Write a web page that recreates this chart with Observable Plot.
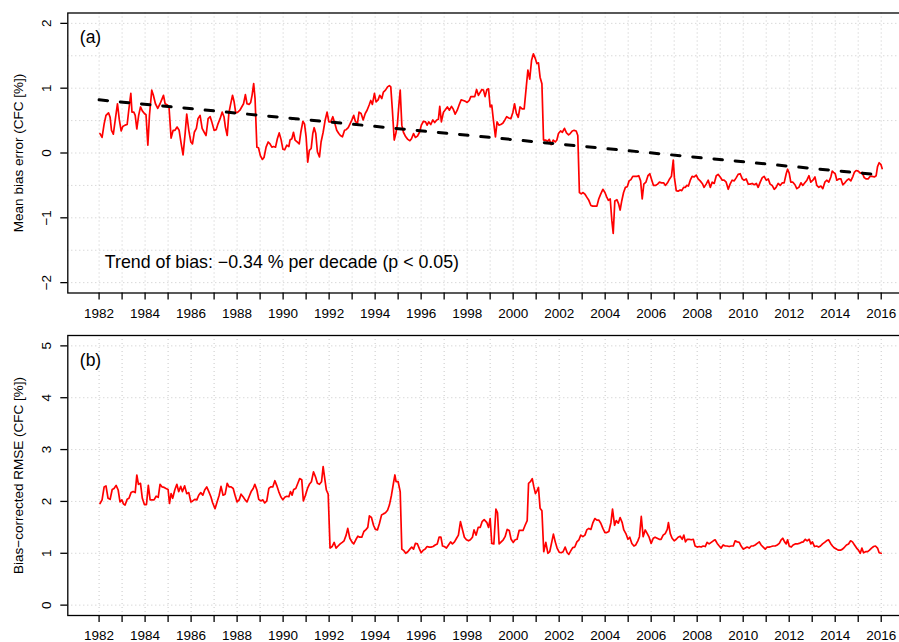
<!DOCTYPE html>
<html>
<head>
<meta charset="utf-8">
<script src="https://cdn.jsdelivr.net/npm/d3@7"></script>
<script src="https://cdn.jsdelivr.net/npm/@observablehq/plot@0.6"></script>
<style>
  html, body { margin: 0; padding: 0; background: white; overflow: hidden; }
  #chart svg { display: block; }
</style>
</head>
<body>
<div id="chart"></div>
<script>
// ---------- data ----------
const yearTicks = d3.range(1982, 2017);
const biasTicks = [-2, -1, 0, 1, 2];
const biasGrid = [-2, -1.5, -1, -0.5, 0, 0.5, 1, 1.5, 2];
const rmseTicks = [0, 1, 2, 3, 4, 5];
const rmseGrid = [0, 1, 2, 3, 4, 5];

const panelALabel = "(a)";
const panelBLabel = "(b)";
const biasTitle = "Mean bias error (CFC [%])";
const rmseTitle = "Bias\u2212corrected RMSE (CFC [%])";
const trendLabel = "Trend of bias: \u22120.34 % per decade (p < 0.05)";

const trendYears = [1982, 2016];
const trendValues = [0.82, -0.34];

const biasYears = [
1982.04,1982.13,1982.22,1982.30,1982.41,1982.48,1982.54,1982.62,1982.71,1982.80,1982.88,1982.96,
1983.03,1983.13,1983.22,1983.29,1983.38,1983.43,1983.51,1983.57,1983.64,1983.72,1983.80,1983.88,1983.97,
1984.04,1984.12,1984.19,1984.29,1984.36,1984.45,1984.55,1984.65,1984.72,1984.80,1984.87,1984.97,
1985.04,1985.13,1985.22,1985.30,1985.39,1985.48,1985.57,1985.65,1985.74,1985.81,1985.90,1985.99,
1986.06,1986.14,1986.23,1986.30,1986.39,1986.48,1986.57,1986.65,1986.74,1986.83,1986.90,
1987.00,1987.09,1987.17,1987.26,1987.35,1987.43,1987.49,1987.57,1987.64,1987.71,1987.80,1987.87,1987.94,
1988.03,1988.12,1988.20,1988.28,1988.36,1988.43,1988.52,1988.59,1988.65,1988.72,1988.78,1988.86,1988.93,
1989.01,1989.10,1989.17,1989.26,1989.35,1989.43,1989.51,1989.58,1989.67,1989.75,1989.83,1989.91,1989.99,
1990.07,1990.16,1990.25,1990.30,1990.38,1990.45,1990.52,1990.61,1990.70,1990.77,1990.86,1990.93,
1991.00,1991.07,1991.14,1991.22,1991.29,1991.35,1991.42,1991.49,1991.58,1991.65,1991.74,1991.83,1991.91,1991.99,
1992.07,1992.16,1992.23,1992.33,1992.42,1992.49,1992.58,1992.67,1992.74,1992.83,1992.91,1992.99,
1993.07,1993.14,1993.23,1993.30,1993.39,1993.48,1993.57,1993.65,1993.74,1993.81,1993.88,1993.97,
1994.04,1994.13,1994.20,1994.29,1994.36,1994.45,1994.54,1994.62,1994.68,1994.75,1994.83,1994.90,1994.97,
1995.03,1995.09,1995.16,1995.23,1995.33,1995.42,1995.51,1995.58,1995.67,1995.75,1995.84,1995.93,
1996.01,1996.10,1996.19,1996.26,1996.33,1996.42,1996.51,1996.59,1996.68,1996.75,1996.81,1996.88,1996.97,
1997.06,1997.14,1997.23,1997.32,1997.39,1997.48,1997.57,1997.65,1997.74,1997.83,1997.91,
1998.00,1998.09,1998.16,1998.25,1998.33,1998.41,1998.49,1998.64,1998.71,1998.78,1998.86,1998.93,
1999.00,1999.07,1999.14,1999.23,1999.30,1999.38,1999.46,1999.55,1999.64,1999.72,1999.81,1999.90,1999.99,
2000.06,2000.14,2000.22,2000.30,2000.39,2000.48,2000.57,2000.64,2000.72,2000.80,2000.88,2000.96,
2001.03,2001.10,2001.17,2001.25,2001.32,2001.41,2001.49,2001.57,2001.65,2001.74,2001.83,2001.90,2001.97,
2002.06,2002.14,2002.23,2002.32,2002.41,2002.48,2002.57,2002.65,2002.74,2002.81,2002.88,2002.96,
2003.04,2003.13,2003.20,2003.29,2003.38,2003.46,2003.55,2003.64,2003.72,2003.81,2003.90,2003.99,
2004.07,2004.14,2004.22,2004.29,2004.35,2004.42,2004.51,2004.58,2004.65,2004.72,2004.80,2004.88,2004.96,
2005.04,2005.12,2005.20,2005.29,2005.38,2005.46,2005.54,2005.61,2005.68,2005.77,2005.86,2005.94,
2006.01,2006.10,2006.19,2006.28,2006.36,2006.45,2006.54,2006.62,2006.71,2006.80,2006.88,2006.96,
2007.01,2007.09,2007.17,2007.26,2007.33,2007.41,2007.48,2007.55,2007.62,2007.70,2007.78,2007.87,2007.96,
2008.04,2008.13,2008.22,2008.30,2008.39,2008.48,2008.57,2008.65,2008.74,2008.83,2008.91,
2009.00,2009.09,2009.17,2009.26,2009.35,2009.43,2009.52,2009.61,2009.70,2009.78,2009.87,2009.96,
2010.04,2010.13,2010.22,2010.30,2010.39,2010.48,2010.57,2010.65,2010.74,2010.83,2010.91,
2011.00,2011.09,2011.17,2011.26,2011.35,2011.43,2011.52,2011.61,2011.70,2011.78,2011.87,2011.93,
2012.00,2012.07,2012.16,2012.25,2012.33,2012.42,2012.51,2012.59,2012.68,2012.77,2012.86,2012.94,
2013.03,2013.12,2013.20,2013.29,2013.38,2013.46,2013.55,2013.64,2013.72,2013.81,2013.87,2013.93,
2014.00,2014.07,2014.16,2014.25,2014.33,2014.42,2014.51,2014.59,2014.68,2014.77,2014.83,2014.91,
2015.00,2015.09,2015.17,2015.26,2015.35,2015.43,2015.52,2015.61,2015.70,2015.78,2015.84,2015.91,2015.99,2016.04
];
const biasValues = [
0.30,0.24,0.45,0.58,0.62,0.55,0.35,0.29,0.53,0.76,0.51,0.34,
0.41,0.43,0.44,0.66,0.92,0.63,0.63,0.58,0.37,0.58,0.71,0.65,0.61,
0.59,0.12,0.58,0.97,0.89,0.76,0.69,0.76,0.82,0.89,0.76,0.74,
0.71,0.23,0.35,0.35,0.40,0.35,0.14,-0.03,0.30,0.60,0.35,0.17,
0.14,0.32,0.38,0.53,0.58,0.38,0.32,0.27,0.53,0.56,0.48,
0.35,0.36,0.45,0.53,0.63,0.56,0.40,0.27,0.61,0.74,0.89,0.79,0.62,
0.63,0.66,0.71,0.76,0.90,0.76,0.75,0.78,0.89,1.07,0.84,0.09,0.08,
-0.04,-0.10,-0.07,0.09,0.17,0.14,0.09,0.10,0.09,0.22,0.31,0.21,0.06,
0.05,0.12,0.10,0.20,0.22,0.32,0.20,0.17,0.14,0.32,0.49,0.45,
0.25,-0.14,0.04,0.07,0.30,0.39,0.30,0.02,-0.06,0.17,0.32,0.51,0.63,0.48,
0.48,0.56,0.48,0.35,0.30,0.27,0.25,0.35,0.36,0.39,0.45,0.51,
0.58,0.49,0.45,0.63,0.61,0.51,0.61,0.66,0.74,0.81,0.75,0.92,
0.79,0.82,0.89,0.84,0.94,0.97,1.02,1.04,1.02,0.66,0.20,0.30,0.45,
0.73,0.97,0.43,0.32,0.25,0.21,0.19,0.22,0.30,0.24,0.26,0.32,
0.43,0.49,0.48,0.43,0.48,0.44,0.51,0.47,0.51,0.52,0.72,0.48,0.63,
0.67,0.71,0.66,0.72,0.68,0.60,0.66,0.74,0.82,0.81,0.80,
0.78,0.81,0.87,0.87,0.87,0.98,0.89,0.98,0.97,0.87,0.98,0.99,
0.71,0.74,0.51,0.25,0.48,0.43,0.44,0.46,0.51,0.56,0.54,0.53,0.63,
0.76,0.61,0.55,0.71,0.68,0.68,1.02,1.28,1.14,1.43,1.53,1.46,
1.38,1.39,1.17,1.07,0.20,0.20,0.18,0.21,0.13,0.20,0.17,0.20,0.30,
0.34,0.32,0.38,0.31,0.28,0.30,0.34,0.35,0.34,0.27,-0.61,-0.63,
-0.61,-0.64,-0.68,-0.73,-0.81,-0.82,-0.82,-0.82,-0.71,-0.63,-0.56,-0.61,
-0.68,-0.73,-0.71,-1.04,-1.24,-0.74,-0.72,-0.78,-0.88,-0.74,-0.61,-0.53,-0.52,
-0.43,-0.41,-0.36,-0.36,-0.36,-0.35,-0.43,-0.71,-0.48,-0.45,-0.35,-0.32,
-0.40,-0.50,-0.50,-0.48,-0.45,-0.46,-0.46,-0.50,-0.46,-0.40,-0.36,-0.11,
-0.38,-0.58,-0.59,-0.57,-0.58,-0.53,-0.53,-0.50,-0.51,-0.42,-0.36,-0.37,-0.34,
-0.40,-0.43,-0.47,-0.53,-0.48,-0.42,-0.53,-0.45,-0.47,-0.35,-0.33,
-0.37,-0.42,-0.42,-0.45,-0.56,-0.48,-0.42,-0.43,-0.38,-0.33,-0.32,-0.40,
-0.42,-0.40,-0.48,-0.48,-0.47,-0.49,-0.47,-0.53,-0.45,-0.38,-0.36,
-0.42,-0.40,-0.48,-0.50,-0.56,-0.53,-0.47,-0.50,-0.46,-0.46,-0.32,-0.25,
-0.31,-0.45,-0.45,-0.49,-0.55,-0.53,-0.46,-0.50,-0.46,-0.42,-0.35,-0.45,
-0.42,-0.37,-0.50,-0.53,-0.51,-0.55,-0.45,-0.42,-0.45,-0.37,-0.28,-0.30,
-0.32,-0.42,-0.40,-0.40,-0.49,-0.46,-0.42,-0.40,-0.43,-0.36,-0.30,-0.27,
-0.28,-0.31,-0.30,-0.38,-0.40,-0.40,-0.36,-0.36,-0.37,-0.35,-0.21,-0.15,-0.18,-0.24
];

const rmseYears = [
1982.04,1982.13,1982.22,1982.30,1982.39,1982.48,1982.57,1982.65,1982.74,1982.83,1982.91,1982.99,
1983.06,1983.13,1983.22,1983.30,1983.39,1983.48,1983.57,1983.64,1983.71,1983.80,1983.88,1983.97,
1984.06,1984.14,1984.22,1984.30,1984.39,1984.48,1984.57,1984.65,1984.74,1984.83,1984.91,
1985.00,1985.06,1985.13,1985.20,1985.29,1985.38,1985.46,1985.55,1985.62,1985.72,1985.81,1985.90,1985.99,
1986.07,1986.16,1986.25,1986.33,1986.42,1986.51,1986.59,1986.68,1986.77,1986.86,1986.94,
1987.04,1987.13,1987.22,1987.30,1987.39,1987.48,1987.57,1987.65,1987.74,1987.83,1987.91,
1988.00,1988.09,1988.17,1988.26,1988.35,1988.43,1988.52,1988.61,1988.70,1988.77,1988.86,1988.94,
1989.03,1989.12,1989.20,1989.29,1989.38,1989.46,1989.55,1989.64,1989.72,1989.81,1989.90,1989.99,
1990.07,1990.16,1990.25,1990.32,1990.39,1990.46,1990.55,1990.64,1990.72,1990.81,1990.88,1990.97,
1991.06,1991.14,1991.23,1991.32,1991.41,1991.49,1991.58,1991.67,1991.74,1991.81,1991.88,1991.96,
1992.04,1992.13,1992.22,1992.30,1992.39,1992.48,1992.57,1992.65,1992.74,1992.81,1992.90,1992.99,
1993.07,1993.16,1993.25,1993.33,1993.42,1993.51,1993.59,1993.68,1993.75,1993.84,1993.93,
1994.01,1994.10,1994.19,1994.28,1994.36,1994.45,1994.54,1994.62,1994.71,1994.80,1994.86,1994.91,
1995.00,1995.09,1995.16,1995.25,1995.33,1995.42,1995.51,1995.59,1995.67,1995.75,1995.84,1995.93,
1996.00,1996.09,1996.17,1996.26,1996.35,1996.43,1996.52,1996.61,1996.70,1996.78,1996.86,1996.93,
1997.01,1997.10,1997.19,1997.28,1997.36,1997.45,1997.54,1997.62,1997.71,1997.80,1997.88,1997.97,
1998.06,1998.14,1998.23,1998.30,1998.39,1998.48,1998.57,1998.65,1998.74,1998.86,1998.93,
1999.00,1999.07,1999.16,1999.25,1999.32,1999.39,1999.48,1999.57,1999.65,1999.74,1999.83,1999.91,
2000.00,2000.09,2000.17,2000.26,2000.35,2000.43,2000.52,2000.61,2000.67,2000.75,2000.83,2000.90,2000.97,
2001.04,2001.10,2001.17,2001.25,2001.33,2001.42,2001.51,2001.59,2001.68,2001.75,2001.83,2001.91,
2002.00,2002.09,2002.17,2002.26,2002.35,2002.42,2002.51,2002.59,2002.68,2002.77,2002.86,2002.94,
2003.03,2003.12,2003.20,2003.29,2003.38,2003.46,2003.55,2003.64,2003.72,2003.81,2003.90,2003.99,
2004.07,2004.16,2004.25,2004.32,2004.41,2004.48,2004.57,2004.65,2004.74,2004.81,2004.90,2004.99,
2005.07,2005.16,2005.25,2005.33,2005.42,2005.49,2005.57,2005.65,2005.74,2005.83,2005.91,
2006.00,2006.09,2006.17,2006.26,2006.35,2006.43,2006.52,2006.61,2006.70,2006.75,2006.83,2006.91,
2007.00,2007.09,2007.17,2007.26,2007.35,2007.42,2007.49,2007.57,2007.65,2007.74,2007.83,2007.91,
2008.00,2008.09,2008.17,2008.26,2008.35,2008.43,2008.52,2008.61,2008.70,2008.78,2008.87,2008.96,
2009.04,2009.13,2009.22,2009.30,2009.39,2009.48,2009.57,2009.65,2009.74,2009.83,2009.91,
2010.00,2010.09,2010.17,2010.26,2010.35,2010.43,2010.52,2010.61,2010.70,2010.78,2010.87,2010.96,
2011.04,2011.13,2011.22,2011.30,2011.39,2011.48,2011.57,2011.65,2011.72,2011.80,2011.87,2011.93,
2012.00,2012.09,2012.17,2012.26,2012.35,2012.43,2012.52,2012.61,2012.70,2012.78,2012.87,2012.94,
2013.01,2013.10,2013.19,2013.28,2013.36,2013.45,2013.54,2013.62,2013.71,2013.80,2013.88,2013.97,
2014.06,2014.14,2014.23,2014.32,2014.41,2014.49,2014.58,2014.67,2014.75,2014.84,2014.93,
2015.01,2015.09,2015.16,2015.23,2015.32,2015.41,2015.49,2015.58,2015.67,2015.75,2015.84,2015.91,2016.00
];
const rmseValues = [
1.96,2.03,2.28,2.30,2.06,2.04,2.23,2.25,2.31,2.22,1.99,2.03,
1.95,1.93,2.04,2.06,2.17,2.19,2.17,2.51,2.33,2.35,2.06,1.94,
1.94,2.31,2.03,2.03,2.03,2.10,2.08,2.33,2.28,2.27,2.25,
2.23,1.96,2.15,2.06,2.22,2.33,2.19,2.29,2.19,2.30,2.15,2.17,1.99,
2.01,2.04,2.03,2.12,2.17,2.12,2.22,2.28,2.19,2.09,1.97,
1.86,1.99,2.12,2.29,2.12,2.14,2.35,2.28,2.28,2.25,2.12,
1.99,2.03,2.14,2.09,2.03,1.99,2.09,2.19,2.25,2.33,2.22,2.04,
2.01,2.03,1.97,2.01,2.25,2.28,2.28,2.40,2.31,2.19,2.09,2.03,
2.08,2.10,2.09,2.19,2.12,2.23,2.25,2.35,2.44,2.42,2.01,2.12,
2.25,2.33,2.38,2.57,2.47,2.35,2.33,2.38,2.67,2.44,2.22,2.14,
1.10,1.13,1.21,1.10,1.14,1.18,1.21,1.24,1.35,1.48,1.29,1.22,
1.18,1.26,1.33,1.31,1.31,1.42,1.45,1.50,1.72,1.69,1.54,
1.46,1.45,1.58,1.74,1.76,1.78,1.83,1.93,2.12,2.36,2.51,2.38,
2.38,2.19,1.08,1.05,1.00,1.03,1.08,1.12,1.08,1.19,1.18,1.08,
1.01,1.06,1.08,1.13,1.12,1.12,1.13,1.16,1.18,1.31,1.31,1.14,
1.13,1.10,1.16,1.22,1.18,1.22,1.29,1.35,1.61,1.45,1.31,1.26,
1.24,1.26,1.31,1.45,1.35,1.50,1.50,1.61,1.65,1.59,1.50,
1.67,1.19,1.18,1.85,1.78,1.18,1.22,1.26,1.32,1.46,1.44,1.27,
1.21,1.26,1.27,1.44,1.44,1.44,1.54,1.63,2.35,2.38,2.44,2.28,2.15,
2.21,2.27,1.87,1.82,1.03,1.21,1.00,1.03,1.22,1.37,1.22,1.10,
1.02,1.01,1.03,1.12,1.01,0.98,1.05,1.11,1.12,1.22,1.26,1.35,
1.32,1.35,1.45,1.48,1.46,1.58,1.67,1.64,1.64,1.58,1.48,1.40,
1.40,1.42,1.59,1.85,1.54,1.63,1.58,1.69,1.59,1.45,1.38,1.27,
1.31,1.19,1.14,1.16,1.24,1.32,1.71,1.32,1.45,1.38,1.31,
1.19,1.29,1.31,1.29,1.27,1.27,1.35,1.38,1.46,1.59,1.38,1.29,
1.24,1.27,1.31,1.33,1.27,1.35,1.22,1.27,1.27,1.26,1.27,1.14,
1.12,1.13,1.12,1.14,1.13,1.21,1.18,1.21,1.24,1.26,1.19,1.14,
1.10,1.16,1.14,1.14,1.13,1.14,1.14,1.24,1.22,1.21,1.14,
1.08,1.10,1.12,1.10,1.14,1.14,1.16,1.19,1.22,1.16,1.12,1.08,
1.12,1.12,1.13,1.14,1.14,1.16,1.19,1.26,1.29,1.22,1.18,1.26,
1.14,1.12,1.16,1.18,1.18,1.19,1.21,1.22,1.27,1.24,1.27,1.18,
1.22,1.13,1.14,1.12,1.14,1.18,1.21,1.24,1.26,1.19,1.14,1.10,
1.08,1.06,1.06,1.08,1.12,1.16,1.18,1.24,1.22,1.16,1.10,
1.06,1.00,1.10,1.01,1.03,1.03,1.06,1.10,1.13,1.14,1.10,1.01,1.00
];

// ---------- build ----------
const bias = biasYears.map((t, i) => ({t, v: biasValues[i]}));
const rmse = rmseYears.map((t, i) => ({t, v: rmseValues[i]}));
const trend = trendYears.map((t, i) => ({t, v: trendValues[i]}));

const minus = (d) => (d < 0 ? "\u2212" + Math.abs(d) : String(d));
const FONT = "'Liberation Sans', Arial, Helvetica, sans-serif";
const W = 899, ML = 67.3, MR = -13;
const xDomain = [1980.64, 2017.36];
const gridStyle = {stroke: "#c8c8c8", strokeOpacity: 1, strokeWidth: 1, strokeDasharray: "1,3"};

function panel({height, mt, mb, yDomain, yTicks, yGrid, data, title, tag, extra}) {
  return Plot.plot({
    width: W, height,
    marginLeft: ML, marginRight: MR, marginTop: mt, marginBottom: mb,
    style: {fontFamily: FONT, fontSize: "13.5px", background: "white", color: "black", overflow: "hidden"},
    x: {domain: xDomain, label: null},
    y: {domain: yDomain, label: null},
    marks: [
      Plot.gridX(yearTicks, gridStyle),
      Plot.gridY(yGrid, gridStyle),
      Plot.line(data, {x: "t", y: "v", stroke: "#ff0000", strokeWidth: 1.7, strokeLinejoin: "round"}),
      ...(extra || []),
      Plot.frame({stroke: "black", strokeWidth: 1.3}),
      Plot.axisX(yearTicks, {tickSize: 7, tickPadding: 8, strokeWidth: 1.3,
        tickFormat: (d) => (d % 2 === 0 ? String(d) : ""), fontSize: 13.5}),
      Plot.axisY(yTicks, {tickSize: 7, strokeWidth: 1.3, fill: "none"}),
      Plot.text(yTicks, {y: (d) => d, text: (d) => minus(d), frameAnchor: "left", textAnchor: "middle", lineAnchor: "middle", dx: -21, rotate: -90, fontSize: 13.5}),
      Plot.text([title], {frameAnchor: "left", textAnchor: "middle", lineAnchor: "middle", dx: -49, rotate: -90, fontSize: 13.5}),
      Plot.text([tag], {frameAnchor: "top-left", dx: 12, dy: 24.5, textAnchor: "start", lineAnchor: "middle", fontSize: 17.5})
    ]
  });
}

const chart = document.getElementById("chart");
chart.appendChild(panel({
  height: 320, mt: 12.5, mb: 27.5,
  yDomain: [-2.16, 2.16], yTicks: biasTicks, yGrid: biasGrid,
  data: bias, title: biasTitle, tag: panelALabel,
  extra: [
    Plot.line(trend, {x: "t", y: "v", stroke: "black", strokeWidth: 3, strokeDasharray: "8.5,12.8", strokeLinecap: "round"}),
    Plot.text([trendLabel], {frameAnchor: "bottom-left", dx: 37, dy: -30.5, textAnchor: "start", lineAnchor: "middle", fontSize: 17.8})
  ]
}));
chart.appendChild(panel({
  height: 322, mt: 15, mb: 27,
  yDomain: [-0.2, 5.2], yTicks: rmseTicks, yGrid: rmseGrid,
  data: rmse, title: rmseTitle, tag: panelBLabel
}));
</script>
</body>
</html>
